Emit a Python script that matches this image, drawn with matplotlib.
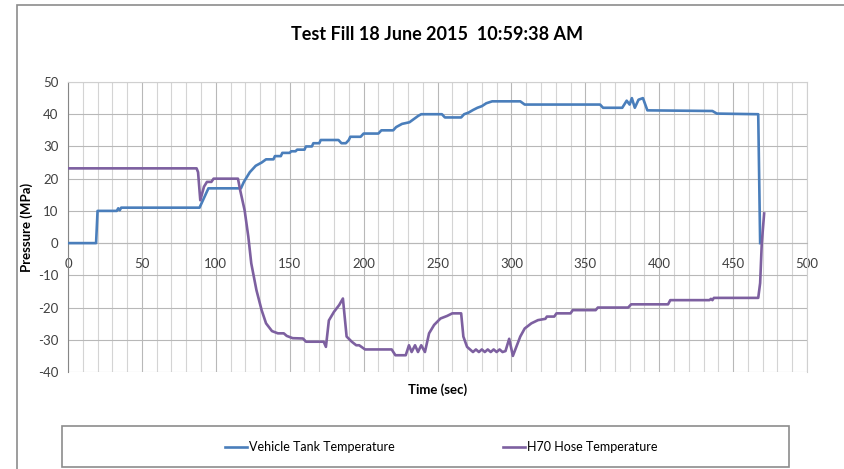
import matplotlib.pyplot as plt
import matplotlib.patches as patches

# Vehicle Tank Temperature
tank_t = [0, 19, 20, 33, 34, 35, 36, 89, 92, 95, 117, 119, 121, 123, 125, 127, 129, 131, 134,
          139, 140, 144, 145, 150, 151, 154, 155, 160, 161, 165, 166, 170, 171, 183, 185, 188,
          190, 191, 198, 200, 210, 212, 220, 222, 226, 231, 234, 237, 239, 253, 255, 266, 268,
          271, 274, 277, 280, 283, 287, 306, 309, 360, 362, 375, 378, 380, 381.5, 383.5, 386,
          389, 392, 436, 439, 467, 468.3]
tank_p = [0, 0, 10, 10, 10.8, 10.2, 11, 11, 14, 17, 17, 19, 20.5, 22, 23, 24, 24.5, 25, 26,
          26, 27, 27, 28, 28, 28.5, 28.5, 29, 29, 30, 30, 31, 31, 32, 32, 31, 31,
          32, 33, 33, 34, 34, 35, 35, 36, 37, 37.5, 38.5, 39.5, 40, 40, 39, 39, 40,
          40.5, 41.3, 42, 42.5, 43.4, 44, 44, 43, 43, 42, 42, 44.2, 43, 45, 42, 44.5,
          45, 41.2, 41, 40.2, 40, 0]

# H70 Hose Temperature
hose_t = [0, 87, 88, 89.5, 92, 94, 97, 98.5, 115, 116.5, 119.5, 122, 124, 127.5, 131, 134,
          138, 142, 146, 148, 152, 159, 161, 173, 174.5, 176.5, 180, 183.5, 186, 188.5, 192,
          195, 197, 201, 219, 221.5, 228.5, 230.7, 232.5, 234.8, 236.8, 239, 241.5, 244.3,
          247.7, 252, 256.5, 260, 266, 267.5, 270, 272, 274, 276, 278, 280, 282, 284, 286,
          288, 290, 292, 294, 296, 298.5, 301, 303.5, 306, 309, 313.5, 318, 323, 324, 329,
          330.5, 340, 341.5, 357, 358.5, 379, 381, 406, 407.5, 434, 435, 436, 437, 467,
          468.3, 469.4, 471]
hose_p = [23.2, 23.2, 22, 13.3, 17.5, 19, 19, 20, 20, 16.4, 10.2, 2, -6.3, -14.6, -20.8, -24.9,
          -27.3, -28, -28, -28.8, -29.5, -29.6, -30.6, -30.6, -32.2, -24, -21.3, -19.2, -17.2, -29, -30.6,
          -31.7, -31.7, -33, -33, -34.8, -34.8, -31.7, -33.8, -31.7, -33.8, -31.7, -33.8, -28,
          -25.4, -23.4, -22.6, -21.8, -21.8, -29, -32.2, -33, -33.8, -33, -33.8, -33, -33.8, -33, -33.8,
          -33, -33.8, -33, -33.8, -33.5, -29.7, -35, -32, -29, -26.5, -24.9, -23.9, -23.5, -22.8, -22.8,
          -21.8, -21.8, -20.8, -20.8, -20, -20, -19, -19, -17.7, -17.7, -17.3, -17.7, -17, -17,
          -12.4, 0, 9.2]

plt.rcParams['font.family'] = ['Lato', 'DejaVu Sans']
plt.rcParams['axes.unicode_minus'] = False

fig = plt.figure(figsize=(8.44, 4.69), dpi=100)
ax = fig.add_axes([68/844, 1-372/469, 739/844, 290/469])

blue = '#4a7ebb'
purple = '#7d60a0'
l1, = ax.plot(tank_t, tank_p, color=blue, lw=1.9, zorder=3)
l2, = ax.plot(hose_t, hose_p, color=purple, lw=1.9, zorder=3)

ax.set_xlim(0, 500)
ax.set_ylim(-40, 50)
ax.set_xticks(range(0, 501, 50))
ax.set_yticks(range(-40, 51, 10))
ax.set_xticks(range(0, 501, 10), minor=True)
ax.grid(which='major', color='#b8b8b8', lw=0.8)
ax.grid(which='minor', axis='x', color='#d4d4d4', lw=0.8)

for s in ['top', 'right']:
    ax.spines[s].set_color('#d0d0d0')
ax.spines['left'].set_color('#868686')
ax.spines['bottom'].set_position(('data', 0))
ax.spines['bottom'].set_color('#b8b8b8')
ax.tick_params(which='both', length=0, colors='#404040', labelsize=9.5)
ax.tick_params(axis='x', pad=11)
ax.tick_params(axis='y', pad=7)

ax.set_ylabel('Pressure (MPa)', fontsize=9.5, fontweight='bold')
ax.yaxis.set_label_coords(-0.047, 0.5)
ax.set_xlabel('Time (sec)', fontsize=9.5, fontweight='bold')
ax.xaxis.set_label_coords(0.5, -0.038)

fig.text(0.518, 1-35/469, 'Test Fill 18 June 2015  10:59:38 AM', ha='center', va='center',
         fontsize=13, fontweight='bold')

# chart border and legend box
fig.patches.append(patches.Rectangle((17/844, -0.1), 1.0, 0.1 + 1-5/469, transform=fig.transFigure,
                                     fill=False, edgecolor='#8c8c8c', lw=1.2))
fig.patches.append(patches.Rectangle((62/844, 2/469), 727/844, 41/469, transform=fig.transFigure,
                                     fill=False, edgecolor='#8c8c8c', lw=1.2))

fig.legend([l1], ['Vehicle Tank Temperature'], loc='center left',
           bbox_to_anchor=(214/844, 1-447/469), frameon=False, fontsize=9,
           handlelength=1.7, handletextpad=0.2)
fig.legend([l2], ['H70 Hose Temperature'], loc='center left',
           bbox_to_anchor=(492/844, 1-447/469), frameon=False, fontsize=9,
           handlelength=1.7, handletextpad=0.2)

fig.savefig('out.png', dpi=100)
